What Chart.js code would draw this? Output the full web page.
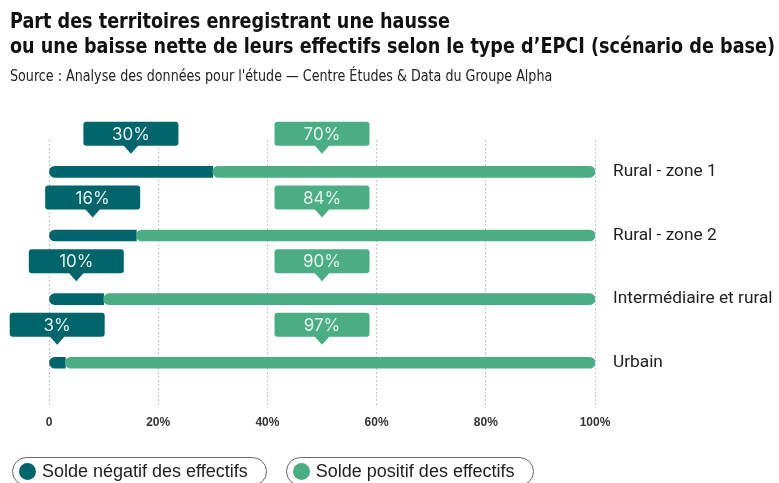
<!DOCTYPE html>
<html>
<head>
<meta charset="utf-8">
<script src="https://cdn.jsdelivr.net/npm/chart.js@4"></script>
<style>
  body { margin: 0; width: 779px; height: 483px; overflow: hidden; background: #fff; position: relative; }
  #title { position: absolute; left: 10px; top: 9px; font-family: "DejaVu Sans Condensed", sans-serif; font-weight: bold; font-size: 21px; line-height: 25px; color: #111; white-space: nowrap; transform-origin: 0 0; }
  #source { position: absolute; left: 10px; top: 67px; font-family: "DejaVu Sans Condensed", sans-serif; font-size: 15px; color: #222; white-space: nowrap; transform-origin: 0 0; }
  #chart-wrap { position: absolute; left: 0; top: 0; width: 779px; height: 483px; }
  #legend { position: absolute; left: 12px; top: 457px; display: flex; gap: 19px; }
  .pill { display: flex; align-items: center; height: 27px; padding: 0 18px 0 6px; border: 1.5px solid #666; border-radius: 15px; font-family: "Liberation Sans", Arial, sans-serif; font-size: 18px; color: #222; white-space: nowrap; }
  .dot { width: 17px; height: 17px; border-radius: 50%; margin-right: 6px; }
</style>
</head>
<body>
<div id="chart-wrap"><canvas id="epciChart" width="779" height="483"></canvas></div>
<div id="title">Part des territoires enregistrant une hausse<br>ou une baisse nette de leurs effectifs selon le type d’EPCI (scénario de base)</div>
<div id="source">Source : Analyse des données pour l'étude — Centre Études &amp; Data du Groupe Alpha</div>
<div id="legend"></div>
<script>
const categories = ["Rural - zone 1", "Rural - zone 2", "Intermédiaire et rural", "Urbain"];
const negatifs = [30, 16, 10, 3];
const positifs = [70, 84, 90, 97];
const xTicks = [0, 20, 40, 60, 80, 100];

const darkColor = "#00656a";
const greenColor = "#4bad83";

// squeeze the header text to the narrow look of the original
function fitWidth(el, target) {
  el.style.transform = "scaleX(" + (target / el.scrollWidth) + ")";
}
fitWidth(document.getElementById("title"), 765);
fitWidth(document.getElementById("source"), 542);

// callout boxes above each bar
const callouts = {
  id: "callouts",
  afterDatasetsDraw(chart) {
    const ctx = chart.ctx;
    const xs = chart.scales.x, ys = chart.scales.y;
    const w = 95, h = 24;
    function box(cx, by, color, text) {
      const bottom = by - 26;
      ctx.fillStyle = color;
      ctx.beginPath();
      ctx.roundRect(cx - w / 2, bottom - h, w, h, 3);
      ctx.fill();
      ctx.beginPath();
      ctx.moveTo(cx - 8, bottom - 1);
      ctx.lineTo(cx + 8, bottom - 1);
      ctx.lineTo(cx, bottom + 8);
      ctx.closePath();
      ctx.fill();
      ctx.fillStyle = "#e4f1ed";
      ctx.font = "17px Inter, Roboto, sans-serif";
      ctx.textAlign = "center";
      ctx.textBaseline = "middle";
      ctx.fillText(text, cx, bottom - h / 2 + 1);
    }
    ctx.save();
    categories.forEach((c, i) => {
      const by = ys.getPixelForValue(i);
      box(xs.getPixelForValue(negatifs[i] / 2), by, darkColor, negatifs[i] + "%");
      box(xs.getPixelForValue(50), by, greenColor, positifs[i] + "%");
    });
    ctx.restore();
  }
};

const chart = new Chart(document.getElementById("epciChart"), {
  type: "bar",
  data: {
    labels: categories,
    datasets: [{
      label: "Solde négatif des effectifs",
      data: negatifs,
      backgroundColor: darkColor,
      borderSkipped: false,
      borderRadius: { topLeft: 6, bottomLeft: 6, topRight: 0, bottomRight: 0 },
      order: 2
    }, {
      label: "Solde positif des effectifs",
      data: negatifs.map((n, i) => [n, n + positifs[i]]),
      backgroundColor: greenColor,
      borderSkipped: false,
      borderRadius: 6,
      order: 1
    }]
  },
  options: {
    indexAxis: "y",
    responsive: false,
    animation: false,
    grouped: false,
    barThickness: 11,
    layout: { padding: { left: 49, top: 140, bottom: 44, right: 0 } },
    plugins: { legend: { display: false }, tooltip: { enabled: false } },
    scales: {
      x: {
        min: 0,
        max: 100,
        afterBuildTicks: s => { s.ticks = xTicks.map(v => ({ value: v })); },
        grid: { color: "#c4c4c4", tickColor: "#c4c4c4", tickLength: 12, tickBorderDash: [2, 2] },
        border: { display: false, dash: [2, 2] },
        ticks: {
          padding: 9,
          color: "#333",
          font: { family: "Liberation Sans", weight: "bold", size: 12 },
          callback: v => v === 0 ? "0" : v + "%"
        }
      },
      y: {
        position: "right",
        grid: { display: false },
        border: { display: false },
        afterFit: s => { s.width = 184; },
        ticks: {
          padding: 10,
          color: "#222",
          font: { family: "Roboto", size: 17.3 }
        }
      }
    }
  },
  plugins: [callouts]
});

// pill legend built from the datasets
const legend = document.getElementById("legend");
[chart.data.datasets[0], chart.data.datasets[1]].forEach(ds => {
  const pill = document.createElement("div");
  pill.className = "pill";
  pill.innerHTML = '<span class="dot" style="background:' + ds.backgroundColor + '"></span>' + ds.label;
  legend.appendChild(pill);
});
</script>
</body>
</html>
